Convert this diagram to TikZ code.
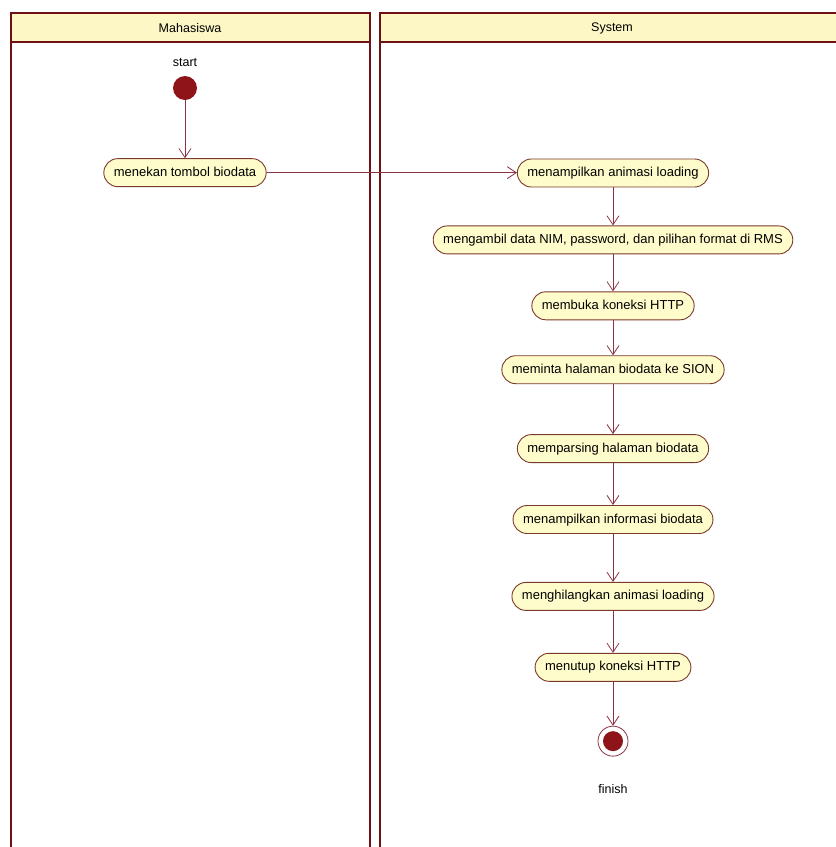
\documentclass[tikz,border=0pt]{standalone}
\usepackage{fontspec}
\setmainfont{Liberation Sans}
\usetikzlibrary{arrows.meta,positioning}
\definecolor{laneline}{HTML}{6E1016}
\definecolor{headfill}{HTML}{FCF7C5}
\definecolor{actfill}{HTML}{FFFCCB}
\definecolor{actline}{HTML}{7A3A2C}
\definecolor{flow}{HTML}{8A3442}
\definecolor{dot}{HTML}{8E1419}

\begin{document}
\begin{tikzpicture}[
  x=1pt, y=-1pt,
  node distance=40pt,
  act/.style={draw=actline, fill=actfill, rounded corners=14pt,
    minimum height=28pt, inner xsep=10pt, line width=0.9pt,
    text height=9.5pt, text depth=2.5pt,
    font=\fontsize{13}{15}\selectfont},
  lane/.style={draw=laneline, line width=2.4pt},
  lanehead/.style={font=\fontsize{12.5}{14}\selectfont},
  arr/.style={-{Straight Barb[length=9pt, width=12pt]}, draw=flow, line width=0.8pt},
  initial/.style={circle, fill=dot, minimum size=24pt, inner sep=0pt},
  final/.style={circle, draw=flow, fill=white, line width=0.8pt,
    minimum size=30pt, inner sep=0pt,
    path picture={\fill[dot] (path picture bounding box.center) circle (10pt);}},
  caption/.style={font=\fontsize{12.5}{14}\selectfont}
]
\useasboundingbox (0,0) rectangle (836,847);

% swimlanes
\fill[headfill] (11,13) rectangle (370,42);
\fill[headfill] (380,13) rectangle (840,42);
\draw[lane] (11,850) |- (370,13) -- (370,850);
\draw[lane] (11,42) -- (370,42);
\draw[lane] (380,850) |- (840,13);
\draw[lane] (380,42) -- (840,42);
\node[lanehead] (mhs) at (190,28) {Mahasiswa};
\node[lanehead] (sys) at (612,28) {System};

% Mahasiswa
\node[initial] (start) at (185,88) {};
\node[caption, above=6pt of start] (startlbl) {start};
\node[act, below=58pt of start] (tombol) {menekan tombol biodata};

% System
\node[act] (loading) at (613,173) {menampilkan animasi loading};
\node[act, below=38pt of loading] (ambil) {mengambil data NIM, password, dan pilihan format di RMS};
\node[act, below=37pt of ambil] (buka) {membuka koneksi HTTP};
\node[act, below=35pt of buka] (minta) {meminta halaman biodata ke SION};
\node[act, below=50pt of minta] (parse) {memparsing halaman biodata};
\node[act, below=42pt of parse] (info) {menampilkan informasi biodata};
\node[act, below=48pt of info] (hilang) {menghilangkan animasi loading};
\node[act, below=42pt of hilang] (tutup) {menutup koneksi HTTP};
\node[final, below=44pt of tutup] (finish) {};
\node[caption, below=24pt of finish] (finishlbl) {finish};

\draw[arr] (start) -- (tombol);
\draw[arr] (tombol.east) -- (tombol.east -| loading.west);
\draw[arr] (loading) -- (ambil);
\draw[arr] (ambil) -- (buka);
\draw[arr] (buka) -- (minta);
\draw[arr] (minta) -- (parse);
\draw[arr] (parse) -- (info);
\draw[arr] (info) -- (hilang);
\draw[arr] (hilang) -- (tutup);
\draw[arr] (tutup) -- (finish);
\end{tikzpicture}
\end{document}
